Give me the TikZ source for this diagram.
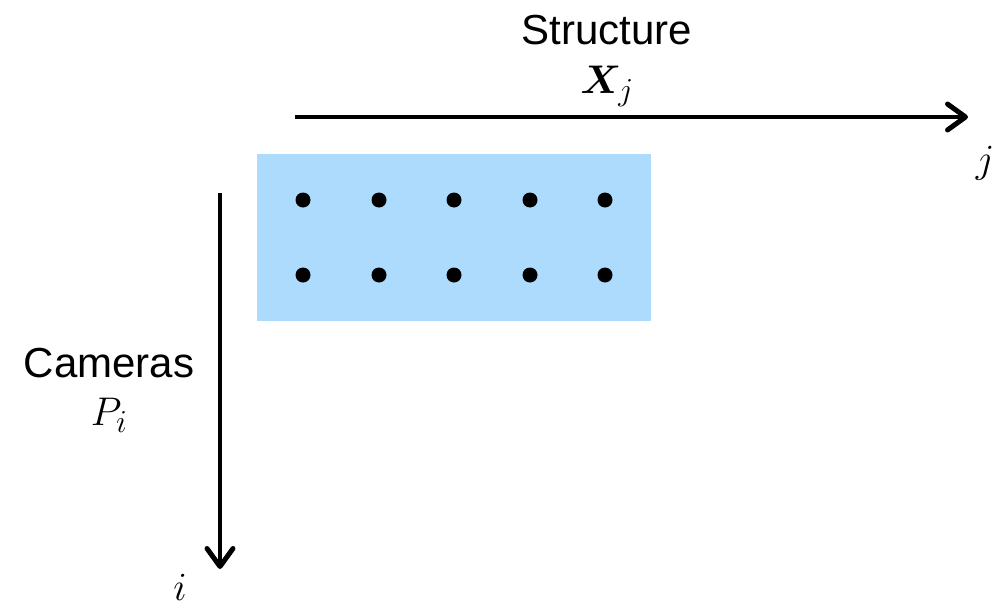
\RequirePackage{fix-cm}
\documentclass[tikz,border=0pt]{standalone}
\usepackage{amsmath,bm}
\usepackage{fontspec}
\setmainfont{Liberation Sans}
\DeclareMathSizes{40}{40}{32}{26}
\usetikzlibrary{arrows.meta}
\definecolor{panel}{HTML}{ADDBFD}
\begin{document}
\begin{tikzpicture}[x=1pt,y=-1pt,
  lbl/.style={inner sep=0pt,anchor=base,font=\fontsize{42}{50}\selectfont},
  mlbl/.style={inner sep=0pt,anchor=base,font=\fontsize{40}{48}\selectfont},
  axis/.style={line width=4pt,-{Straight Barb[length=18pt,width=26pt,line width=5pt,round]}},
  pt/.style={circle,fill=black,inner sep=0pt,minimum size=15pt}]
\useasboundingbox (0,0) rectangle (997,608);
\fill[panel] (257,154) rectangle (651,321);
\foreach \x [count=\k] in {303,379,454,530,605}{
  \node[pt] (a\k) at (\x,200) {};
  \node[pt] (b\k) at (\x,275) {};
}
\coordinate (hs) at (295,117);
\coordinate (he) at (968,117);
\coordinate (vs) at (220,193);
\coordinate (ve) at (220,569);
\draw[axis] (hs) -- (he);
\draw[axis] (vs) -- (ve);
\node[lbl] (st) at (607,44) {Structure};
\node[mlbl] (xj) at (607,93) {$\bm{X}_j$};
\node[mlbl] (jj) at (985,172) {$j$};
\node[lbl] (cam) at (109,377) {Cameras};
\node[mlbl] (pi) at (109,425) {$P_i$};
\node[mlbl] (ii) at (180,600) {$i$};
\end{tikzpicture}
\end{document}
